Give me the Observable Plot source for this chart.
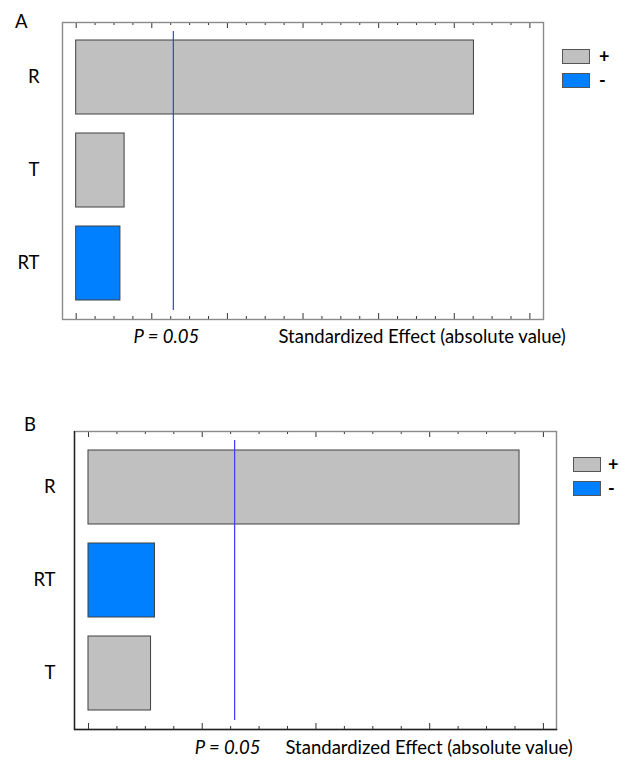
<!DOCTYPE html>
<html><head><meta charset="utf-8">
<script src="https://cdn.jsdelivr.net/npm/d3@7"></script>
<script src="https://cdn.jsdelivr.net/npm/@observablehq/plot@0.6"></script>
<style>
body{margin:0;background:#fff;}
#root{position:relative;width:620px;height:761px;font-family:Lato, sans-serif;overflow:hidden;background:#fff}
.letter{position:absolute;font-size:18.5px;line-height:18.5px;color:#000}
.row{position:absolute;display:flex;align-items:center;height:15px}
.box{width:28px;height:15px;border:1px solid #555;box-sizing:border-box}
.sym{font-size:18px;font-weight:700;line-height:15px;color:#000}
svg{position:absolute;left:0}
</style></head><body><div id="root"></div>
<script>
// Panel A
const effectsA = ["R", "T", "RT"];
const valuesA = [10.52, 1.28, 1.17];
const signsA = ["+", "+", "-"];
const critA = 2.57;
// Panel B
const effectsB = ["R", "RT", "T"];
const valuesB = [7.58, 1.17, 1.10];
const signsB = ["+", "-", "+"];
const critB = 2.57;
// Legend
const signLabels = ["+", "-"];
const signColors = ["#c0c0c0", "#0080ff"];
const critLabel = "P = 0.05";
const axisLabel = "Standardized Effect (absolute value)";
const panelLetters = ["A", "B"];

const FS = 18.5;
const root = document.getElementById("root");

function panel(o) {
  const data = o.effects.map((e, i) => ({effect: e, value: o.values[i], sign: o.signs[i]}));
  const fh = o.height - o.marginTop - o.marginBottom;
  const ticks = d3.range(0, o.xMax + 0.001, 0.5);
  const major = ticks.filter(t => Math.abs(t / 2 - Math.round(t / 2)) < 1e-9);
  const minor = ticks.filter(t => !major.includes(t));
  const marks = [
    Plot.axisY({tickSize: 0, tickPadding: o.tickPadding, fontSize: FS, label: null}),
    Plot.barX(data, {x: "value", y: "effect", fill: "sign", stroke: "#404040", strokeWidth: 1}),
    Plot.ruleX([o.crit], {stroke: "#3b3bf5", strokeWidth: 1.2, insetTop: 9, insetBottom: 9}),
    Plot.ruleX(minor, {stroke: "#333", insetBottom: fh - 3}),
    Plot.ruleX(major, {stroke: "#333", insetBottom: fh - 6}),
    Plot.ruleX(minor, {stroke: "#333", insetTop: fh - 3}),
    Plot.ruleX(major, {stroke: "#333", insetTop: fh - 6}),
    Plot.frame({stroke: "#8a8a8a", strokeWidth: 1.4}),
    Plot.text([o.crit], {x: d => d, frameAnchor: "bottom", dy: o.textDy, dx: -7, text: () => critLabel, fontStyle: "italic", fontSize: FS}),
    Plot.text([axisLabel], {frameAnchor: "bottom-left", dx: o.labelDx, dy: o.textDy, textAnchor: "start", fontSize: FS, text: d => d})
  ];
  if (o.dark) {
    marks.push(Plot.ruleX([o.xDomain[0]], {stroke: "#222", strokeWidth: 1.4}));
    marks.push(Plot.frame({anchor: "bottom", stroke: "#222", strokeWidth: 1.4}));
  }
  const svg = Plot.plot({
    width: 620, height: o.height,
    marginTop: o.marginTop, marginBottom: o.marginBottom,
    marginLeft: o.marginLeft, marginRight: o.marginRight,
    style: {fontFamily: "Lato, sans-serif", fontSize: FS + "px", color: "#000", background: "transparent", overflow: "visible"},
    x: {domain: o.xDomain, axis: null},
    y: {domain: o.effects, paddingInner: 0.2, paddingOuter: 0.19},
    color: {domain: signLabels, range: signColors},
    marks
  });
  svg.style.top = o.top + "px";
  root.appendChild(svg);

  const letter = document.createElement("div");
  letter.className = "letter";
  letter.textContent = o.letter;
  letter.style.left = o.letterX + "px";
  letter.style.top = o.letterY + "px";
  root.appendChild(letter);

  signLabels.forEach((s, i) => {
    const row = document.createElement("div");
    row.className = "row";
    row.style.left = o.legendX + "px";
    row.style.top = (o.legendY + i * 24) + "px";
    const b = document.createElement("div");
    b.className = "box";
    b.style.background = signColors[i];
    const t = document.createElement("span");
    t.className = "sym";
    t.style.marginLeft = o.legendGap + "px";
    t.textContent = s;
    row.appendChild(b); row.appendChild(t);
    root.appendChild(row);
  });
}

panel({
  effects: effectsA, values: valuesA, signs: signsA, crit: critA,
  xDomain: [-0.362, 12.36], xMax: 12,
  top: 0, height: 360, marginTop: 22, marginBottom: 41, marginLeft: 62, marginRight: 77,
  tickPadding: 23, labelDx: 216, textDy: 23,
  letter: panelLetters[0], letterX: 15, letterY: 12,
  legendX: 562, legendY: 49, legendGap: 9, dark: false
});
panel({
  effects: effectsB, values: valuesB, signs: signsB, crit: critB,
  xDomain: [-0.246, 8.23], xMax: 8,
  top: 400, height: 361, marginTop: 31, marginBottom: 32, marginLeft: 74, marginRight: 64,
  tickPadding: 19, labelDx: 211, textDy: 24,
  letter: panelLetters[1], letterX: 24, letterY: 415,
  legendX: 573, legendY: 457, legendGap: 7, dark: true
});
</script></body></html>
